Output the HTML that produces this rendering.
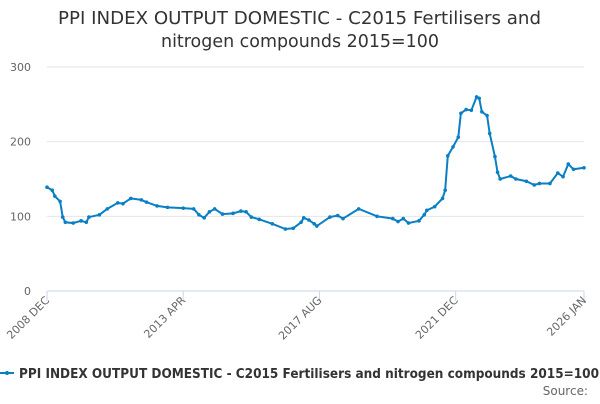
<!DOCTYPE html>
<html><head><meta charset="utf-8"><style>
body{margin:0;width:600px;height:400px;overflow:hidden;background:#fff;font-family:"DejaVu Sans","Liberation Sans",sans-serif;}
</style></head><body>
<svg width="600" height="400" id="chart" font-family="DejaVu Sans, Liberation Sans, sans-serif">
<text x="58" y="24" font-size="18" fill="#333" textLength="483" lengthAdjust="spacingAndGlyphs">PPI INDEX OUTPUT DOMESTIC - C2015 Fertilisers and</text>
<text x="161" y="47" font-size="18" fill="#333" textLength="278" lengthAdjust="spacingAndGlyphs">nitrogen compounds 2015=100</text>
<g id="grid"></g><g id="xaxis"></g><g id="series"></g>
<g>
<line x1="0" y1="373" x2="14" y2="373" stroke="#0a7fc4" stroke-width="2"/>
<circle cx="7" cy="373" r="2" fill="#0a7fc4"/>
<text x="19" y="378" font-size="13" font-weight="bold" fill="#333" textLength="580" lengthAdjust="spacingAndGlyphs">PPI INDEX OUTPUT DOMESTIC - C2015 Fertilisers and nitrogen compounds 2015=100</text>
</g>
<text x="588" y="395" text-anchor="end" font-size="12" fill="#666">Source:</text>
</svg>
<script>
const months=[0,2,3,5,6,7,10,13,15,16,20,23,27,29,32,36,38,42,46,52,56,58,60,62,64,67,71,74,76,78,81,86,91,94,97,98,100,102,103,108,111,113,119,126,132,134,136,138,142,144,145,148,151,152,153,155,157,158,160,162,164,165,166,168,169,171,172,173,177,179,183,186,188,192,195,197,199,201,205];
const values=[139,135,127,120,99,92,91,94,92,99,102,110,118,117,124,122,119,114,112,111,110,102,98,106,110,103,104,107,106,99,96,90,83,84,92,98,95,90,87,99,101,97,110,100,97,93,97,91,94,102,108,113,124,135,181,193,206,238,243,242,260,258,240,235,211,180,159,150,154,150,147,142,144,144,158,153,170,163,165];
const yTicks=[0,100,200,300];
const xTickLabels=["2008 DEC","2013 APR","2017 AUG","2021 DEC","2026 JAN"];
const xTickMonths=[0,52,104,156,205];
const NS="http://www.w3.org/2000/svg";
const X0=47,X1=584,Y0=291,Y1=67;
const xs=m=>X0+(X1-X0)*m/205;
const ys=v=>Y0-(Y0-Y1)*v/300;
const grid=document.getElementById('grid');
yTicks.forEach(t=>{
 const l=document.createElementNS(NS,'line');
 l.setAttribute('x1',X0);l.setAttribute('x2',X1);l.setAttribute('y1',ys(t));l.setAttribute('y2',ys(t));
 l.setAttribute('stroke',t===0?'#ccd6eb':'#e6e6e6');
 
 
 grid.appendChild(l);
 const tx=document.createElementNS(NS,'text');
 tx.setAttribute('x',31);tx.setAttribute('y',ys(t)+4);tx.setAttribute('text-anchor','end');
 tx.setAttribute('font-size','11');tx.setAttribute('fill','#666');tx.textContent=t;
 
 
 grid.appendChild(tx);
});
const xa=document.getElementById('xaxis');
xTickMonths.forEach((m,i)=>{
 const x=xs(m);
 const l=document.createElementNS(NS,'line');
 l.setAttribute('x1',x);l.setAttribute('x2',x);l.setAttribute('y1',Y0);l.setAttribute('y2',Y0+10);l.setAttribute('stroke','#ccd6eb');
 
 
 xa.appendChild(l);
 const tx=document.createElementNS(NS,'text');
 tx.setAttribute('x',x+3);tx.setAttribute('y',Y0+10);tx.setAttribute('text-anchor','end');
 tx.setAttribute('font-size','11');tx.setAttribute('fill','#666');
 tx.setAttribute('transform',`rotate(-45 ${x+3} ${Y0+10})`);
 tx.textContent=xTickLabels[i];
 
 
 xa.appendChild(tx);
});
const s=document.getElementById('series');
const p=document.createElementNS(NS,'polyline');
p.setAttribute('points',months.map((m,i)=>xs(m)+','+ys(values[i])).join(' '));
p.setAttribute('fill','none');p.setAttribute('stroke','#0a7fc4');p.setAttribute('stroke-width','2');


s.appendChild(p);
months.forEach((m,i)=>{
 const c=document.createElementNS(NS,'circle');
 c.setAttribute('cx',xs(m));c.setAttribute('cy',ys(values[i]));c.setAttribute('r','1.8');c.setAttribute('fill','#0a7fc4');
 
 
 s.appendChild(c);
});
</script>
</body></html>
